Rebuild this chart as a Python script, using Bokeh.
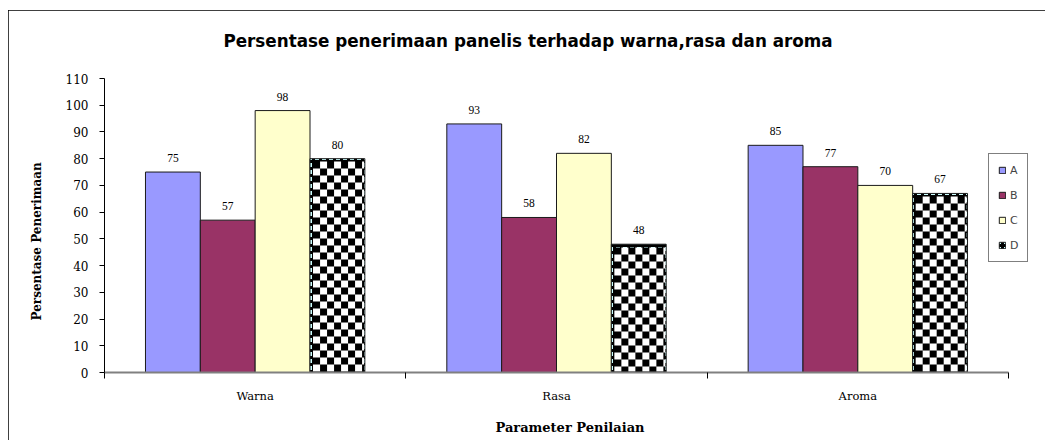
import numpy as np
from bokeh.plotting import figure
from bokeh.models import (Range1d, FixedTicker, Legend, LegendItem, LabelSet,
                          ColumnDataSource, Label, Title)
from bokeh.embed import file_html
from bokeh.resources import INLINE

# ---- data ----
categories = ["Warna", "Rasa", "Aroma"]
series_names = ["A", "B", "C", "D"]
values_A = [75, 93, 85]
values_B = [57, 58, 77]
values_C = [98, 82, 70]
values_D = [80, 48, 67]
y_ticks = [0, 10, 20, 30, 40, 50, 60, 70, 80, 90, 100, 110]
title_text = "Persentase penerimaan panelis terhadap warna,rasa dan aroma"
x_label = "Parameter Penilaian"
y_label = "Persentase Penerimaan"

series_values = [values_A, values_B, values_C, values_D]
fill_colors = ["#9999FF", "#993366", "#FFFFCC", "#CCFFFF"]

# ---- layout (pixels) ----
W, H = 1037, 430
ML, MR, MT, MB = 96, 10, 10, 68
frame_w = W - ML - MR              # 931
frame_h = H - MT - MB              # 352
axis_px_x = 904                    # pixel length of the 3 categories
axis_px_y = 294                    # pixel length of 0..110
y_max = 110
ncat = len(categories)
px_x = axis_px_x / ncat            # pixels per category unit
px_y = axis_px_y / y_max           # pixels per y unit
x_end = frame_w / px_x
y_end = frame_h / px_y

p = figure(width=W, height=H, output_backend="svg", toolbar_location=None,
           x_range=Range1d(0, x_end), y_range=Range1d(0, y_end),
           min_border_left=ML, min_border_right=MR, min_border_top=MT,
           min_border_bottom=MB)
p.styles = {"margin-left": "8px", "margin-top": "10px",
            "outline": "1px solid black", "outline-offset": "-1px"}
p.background_fill_color = "white"
p.border_fill_color = "white"
p.outline_line_color = None
p.xgrid.grid_line_color = None
p.ygrid.grid_line_color = None

# chart title (placed in the upper, axis-free part of the frame)
p.add_layout(Label(x=(527.5 - 104) / px_x, y=(372 - 40) / px_y,
                   text=title_text, text_align="center",
                   text_baseline="middle", text_font="DejaVu Sans",
                   text_font_size="16.8px", text_font_style="bold",
                   text_color="black"))

bw = 0.182
items = []
for j, (name, vals, col) in enumerate(zip(series_names, series_values, fill_colors)):
    xs = [i + 0.5 + (j - 1.5) * bw for i in range(ncat)]
    src = ColumnDataSource(dict(x=xs, top=vals, lab=[str(v) for v in vals]))
    kw = {}
    if name == "D":
        kw = dict(hatch_pattern="cross", hatch_color="black",
                  hatch_scale=7, hatch_weight=3)
    r = p.vbar(x="x", top="top", width=bw, source=src, fill_color=col,
               line_color="#1a1a1a", line_width=1, **kw)
    items.append(LegendItem(label=name, renderers=[r]))
    if name == "D":
        # checkerboard pattern drawn over each D bar
        cell = 7
        inset_l, inset_t, inset_r, inset_b = 3, 3, 1, 1
        for xc, v in zip(xs, vals):
            nx = int(round(bw * px_x - inset_l - inset_r))
            ny = int(round(v * px_y - inset_t - inset_b))
            rr, cc = np.mgrid[0:ny, 0:nx]
            rr_top = (ny - 1 - rr)
            arr = (((rr_top // cell) + (cc // cell)) % 2 == 0).astype(float)
            p.image(image=[arr], x=xc - bw / 2 + inset_l / px_x,
                    y=inset_b / px_y, dw=nx / px_x, dh=ny / px_y,
                    palette=["#FFFFFF", "#000000"])
    p.add_layout(LabelSet(x="x", y="top", text="lab", source=src,
                          text_align="center", text_baseline="bottom",
                          y_offset=10, text_font="DejaVu Sans",
                          text_font_size="11.5px", text_color="black"))

legend = Legend(items=items, location=(884, 110), orientation="vertical",
                glyph_width=8, glyph_height=8, label_standoff=4,
                label_text_font="DejaVu Sans", label_text_font_size="11px",
                label_height=14, label_width=8, spacing=11, padding=9,
                margin=0, border_line_color="black", border_line_width=1,
                background_fill_color="white", background_fill_alpha=1)
p.add_layout(legend, "center")

# x axis
xa = p.xaxis[0]
xa.bounds = (0, ncat)
xa.ticker = FixedTicker(ticks=[i + 0.5 for i in range(ncat)],
                        minor_ticks=list(range(ncat + 1)))
xa.major_label_overrides = {i + 0.5: c for i, c in enumerate(categories)}
xa.major_tick_line_color = None
xa.major_tick_out = 0
xa.major_tick_in = 0
xa.minor_tick_out = 6
xa.minor_tick_in = 0
xa.minor_tick_line_color = "black"
xa.axis_line_color = "#808080"
xa.axis_line_width = 2
xa.major_label_standoff = 10
xa.major_label_text_font = "DejaVu Serif"
xa.major_label_text_font_size = "11.5px"
xa.major_label_text_color = "black"
xa.axis_label = x_label
xa.axis_label_text_font = "DejaVu Serif"
xa.axis_label_text_font_style = "bold"
xa.axis_label_text_font_size = "13px"
xa.axis_label_standoff = 14
xa.axis_label_text_color = "black"

# y axis
ya = p.yaxis[0]
ya.bounds = (0, y_max)
ya.ticker = FixedTicker(ticks=y_ticks, minor_ticks=[])
ya.major_tick_out = 5
ya.major_tick_in = 0
ya.major_tick_line_color = "black"
ya.axis_line_color = "black"
ya.major_label_standoff = 11
ya.major_label_text_font = "DejaVu Serif"
ya.major_label_text_font_size = "12px"
ya.major_label_text_color = "black"

# y axis title, positioned along the 0..110 span
p.add_layout(Title(text=y_label, align="left", offset=52, standoff=38,
                   vertical_align="bottom", text_font="DejaVu Serif",
                   text_font_style="bold", text_font_size="12px",
                   text_color="black"), "left")

open("out.html", "w").write(file_html(p, INLINE))
